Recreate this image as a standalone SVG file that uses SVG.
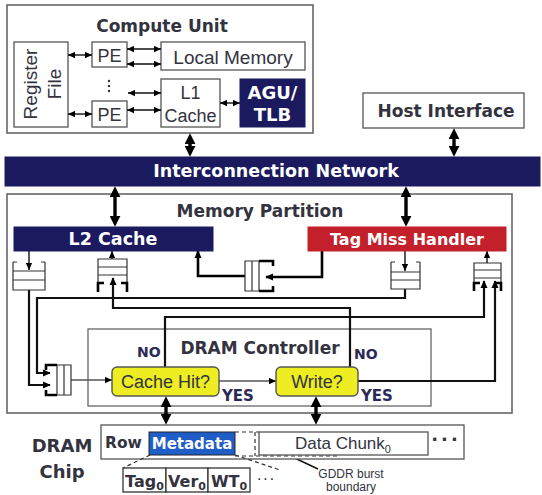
<svg xmlns="http://www.w3.org/2000/svg" width="542" height="495" viewBox="0 0 542 495">
<defs>
<style>
text{font-family:"Liberation Sans",Arial,sans-serif;fill:#333340}
.b{font-family:"DejaVu Sans","Liberation Sans",sans-serif;font-weight:bold}
.w{fill:#fff}
.box{fill:#fff;stroke:#555;stroke-width:1.3}
.frame{fill:#fff;stroke:#666;stroke-width:1.6}
.navy{fill:#1b1a5e;stroke:#1b1a5e}
.t1{fill:none;stroke:#111;stroke-width:1.4}
.tg{fill:none;stroke:#555;stroke-width:1.3}
.t2{fill:none;stroke:#111;stroke-width:2.2}
.thk{fill:none;stroke:#000;stroke-width:3.4}
.q{fill:none;stroke:#333;stroke-width:1.2}
.qb{fill:none;stroke:#000;stroke-width:2.6}
.lbl{font-family:"DejaVu Sans",sans-serif;font-weight:bold;fill:#2a2a55}
.dec{fill:#eded22;stroke:#555;stroke-width:1.4}
.dash{fill:none;stroke:#333;stroke-width:1.2;stroke-dasharray:4 3}
</style>
<marker id="s" viewBox="0 0 10 10" refX="10" refY="5" markerWidth="7" markerHeight="7" markerUnits="userSpaceOnUse" orient="auto-start-reverse"><path d="M0,0.5 L10,5 L0,9.5 z" fill="#000"/></marker>
<marker id="m" viewBox="0 0 10 10" refX="9" refY="5" markerWidth="8" markerHeight="8" markerUnits="userSpaceOnUse" orient="auto-start-reverse"><path d="M0,0.5 L10,5 L0,9.5 z" fill="#000"/></marker>
<marker id="B" viewBox="0 0 10 10" refX="3" refY="5" markerWidth="11" markerHeight="11" markerUnits="userSpaceOnUse" orient="auto-start-reverse"><path d="M0,0 L10,5 L0,10 z" fill="#000"/></marker>
</defs>
<rect width="542" height="495" fill="#fff"/>

<g id="compute-unit">
<rect class="frame" x="7" y="5" width="306" height="128"/>
<text x="162" y="32" text-anchor="middle" class="b" font-size="17">Compute Unit</text>
</g>
<g id="register-file">
<rect class="box" x="14" y="42" width="54" height="85"/>
<text transform="translate(37,84) rotate(-90)" text-anchor="middle" font-size="19">Register</text>
<text transform="translate(61,84) rotate(-90)" text-anchor="middle" font-size="19">File</text>
</g>
<g id="pe-1">
<rect class="box" x="92" y="42" width="35" height="25"/>
<text x="109.5" y="62" text-anchor="middle" font-size="18">PE</text>
</g>
<g id="pe-dots">
<circle cx="109" cy="81" r="1.2" fill="#333"/><circle cx="109" cy="86" r="1.2" fill="#333"/><circle cx="109" cy="91" r="1.2" fill="#333"/>
</g>
<g id="pe-n">
<rect class="box" x="92" y="101" width="35" height="26"/>
<text x="109.5" y="121" text-anchor="middle" font-size="18">PE</text>
</g>
<g id="local-memory">
<rect class="box" x="161" y="42" width="144" height="28"/>
<text x="233" y="64" text-anchor="middle" font-size="19">Local Memory</text>
</g>
<g id="l1-cache">
<rect class="box" x="161" y="79" width="59" height="48"/>
<text x="190.5" y="99" text-anchor="middle" font-size="18">L1</text>
<text x="190.5" y="122" text-anchor="middle" font-size="18">Cache</text>
</g>
<g id="agu-tlb">
<rect class="navy" x="240" y="79" width="65" height="48"/>
<text x="272.5" y="99" text-anchor="middle" class="b w" font-size="18">AGU/</text>
<text x="272.5" y="121" text-anchor="middle" class="b w" font-size="18">TLB</text>
</g>

<g id="host-interface">
<rect class="box" x="363" y="93" width="161" height="35"/>
<text x="446" y="117" text-anchor="middle" class="b" font-size="17">Host Interface</text>
</g>

<g id="interconnection-network">
<rect class="navy" x="5" y="157" width="535" height="29"/>
<text x="276" y="177" text-anchor="middle" class="b w" font-size="17.5">Interconnection Network</text>
</g>

<g id="memory-partition">
<rect class="frame" x="7" y="194" width="505" height="219"/>
<text x="260" y="217" text-anchor="middle" class="b" font-size="17">Memory Partition</text>
</g>

<g id="dram-controller">
<rect class="frame" x="88" y="329" width="343" height="77" style="stroke-width:1.3"/>
<text x="260" y="354" text-anchor="middle" class="b" font-size="17">DRAM Controller</text>
</g>

<g id="connectors">
<g class="t1" marker-start="url(#s)" marker-end="url(#s)">
<line x1="68" y1="55" x2="92" y2="55"/>
<line x1="68" y1="114" x2="92" y2="114"/>
<line x1="127" y1="49" x2="161" y2="49"/>
<line x1="127" y1="64" x2="161" y2="64"/>
<line x1="128" y1="93" x2="161" y2="93"/>
<line x1="127" y1="110" x2="161" y2="110"/>
<line x1="220" y1="103" x2="240" y2="103"/>
</g>
<g class="thk" marker-start="url(#B)" marker-end="url(#B)">
<line x1="190" y1="141" x2="190" y2="149"/>
<line x1="454" y1="136" x2="454" y2="149"/>
<line x1="115" y1="194" x2="115" y2="219"/>
<line x1="406" y1="194" x2="406" y2="219"/>
<line x1="166" y1="404" x2="166" y2="417"/>
<line x1="316" y1="404" x2="316" y2="417"/>
</g>
<g class="t1" marker-end="url(#s)">
<path d="M29,251 V270"/>
<path d="M112,259 V251"/>
<path d="M405,251 V271"/>
<path d="M487,263 V251"/>
<path d="M318,469 L263,443"/>
</g>
<g class="tg" marker-end="url(#s)">
<path d="M71,380 H112"/>
<path d="M219,381 H276"/>
</g>
<g class="t2" marker-end="url(#m)">
<path d="M29,290 V385 H50"/>
<path d="M405,289 V298 H37 V373 H50"/>
<path d="M165,367 V317 H484 V281"/>
<path d="M350,367 V308 H113 V278"/>
<path d="M358,381 H495 V281"/>
</g>
<g fill="none" stroke="#000" stroke-width="2.6" marker-end="url(#m)">
<path d="M245,276 H198 V251"/>
<path d="M322,250 V277 H266"/>
</g>
</g>

<g id="l2-cache">
<rect class="navy" x="14" y="227" width="199" height="24"/>
<text x="113" y="245" text-anchor="middle" class="b w" font-size="17.5">L2 Cache</text>
</g>
<g id="tag-miss-handler">
<rect x="308" y="227" width="198" height="24" fill="#c4202b" stroke="#c4202b"/>
<text x="407" y="245" text-anchor="middle" class="b w" font-size="16">Tag Miss Handler</text>
</g>

<g id="queue-l2-out">
<path class="q" d="M13,262 V290 H45 V262 M13,271 H45 M13,280 H45 M13,262 h4 M45,262 h-4"/>
</g>
<g id="queue-l2-in">
<path class="q" d="M98,283 V259 H127 V283 M98,267 H127 M98,275 H127"/>
<path class="qb" d="M104,283 H98 V292 M121,283 H127 V292"/>
</g>
<g id="queue-tmh-l2">
<path class="q" d="M262,261 H245 V291 H262 M252,261 V291 M259,261 V291"/>
<path class="qb" d="M259,261 H273 V266 M259,291 H273 V286"/>
</g>
<g id="queue-tmh-out">
<path class="q" d="M391,262 V289 H420 V262 M391,272 H420 M391,280 H420 M391,262 h4 M420,262 h-4"/>
</g>
<g id="queue-tmh-in">
<path class="q" d="M474,283 V263 H501 V283 M474,270 H501 M474,278 H501"/>
<path class="qb" d="M480,283 H474 V291 M495,283 H501 V291"/>
</g>
<g id="queue-dram-in">
<path class="q" d="M57,365 H71 V395 H57 V365 M64,365 V395"/>
<path class="qb" d="M57,365 H46 V370 M57,395 H46 V390"/>
</g>

<g id="cache-hit">
<rect class="dec" x="112" y="367" width="107" height="29" rx="5"/>
<text x="165.5" y="388" text-anchor="middle" font-size="18" fill="#222">Cache Hit?</text>
</g>
<g id="write">
<rect class="dec" x="276" y="367" width="82" height="29" rx="5"/>
<text x="317" y="388" text-anchor="middle" font-size="18" fill="#222">Write?</text>
</g>
<g id="labels">
<text x="137" y="357" class="lbl" font-size="14">NO</text>
<text x="354" y="359" class="lbl" font-size="14">NO</text>
<text x="222" y="401" class="lbl" font-size="15">YES</text>
<text x="361" y="401" class="lbl" font-size="15">YES</text>
</g>

<g id="dram-chip">
<text x="62" y="452" text-anchor="middle" class="b" font-size="18">DRAM</text>
<text x="62" y="478" text-anchor="middle" class="b" font-size="18">Chip</text>
<rect class="box" x="101" y="425" width="363" height="34"/>
<text x="105" y="448" class="b" font-size="15.5">Row</text>
<path class="dash" d="M235,432 H259 M235,456 H340 M255,432 V456"/>
<rect x="149" y="432" width="86" height="23" fill="#1f5ec6" stroke="#223"/>
<text x="192" y="449" text-anchor="middle" class="b w" font-size="15">Metadata</text>
<rect class="box" x="259" y="432" width="169" height="23"/>
<text x="343" y="449" text-anchor="middle" font-size="17">Data Chunk<tspan font-size="11" dy="4">0</tspan></text>
<text x="446" y="446" text-anchor="middle" class="b" font-size="18" letter-spacing="3">···</text>
<path class="dash" d="M150,455 L123,468 M235,455 L280,470"/>
<rect class="box" x="123" y="468" width="43" height="24" style="stroke:#333"/>
<rect class="box" x="166" y="468" width="42" height="24" style="stroke:#333"/>
<rect class="box" x="208" y="468" width="42" height="24" style="stroke:#333"/>
<text x="144.5" y="487" text-anchor="middle" class="b" font-size="16">Tag<tspan font-size="11" dy="3">0</tspan></text>
<text x="187" y="487" text-anchor="middle" class="b" font-size="16">Ver<tspan font-size="11" dy="3">0</tspan></text>
<text x="229" y="487" text-anchor="middle" class="b" font-size="16">WT<tspan font-size="11" dy="3">0</tspan></text>
<text x="266" y="484" text-anchor="middle" font-size="16" letter-spacing="1">···</text>
<text x="351" y="478" text-anchor="middle" font-size="12">GDDR burst</text>
<text x="351" y="491" text-anchor="middle" font-size="12">boundary</text>
</g>
</svg>
